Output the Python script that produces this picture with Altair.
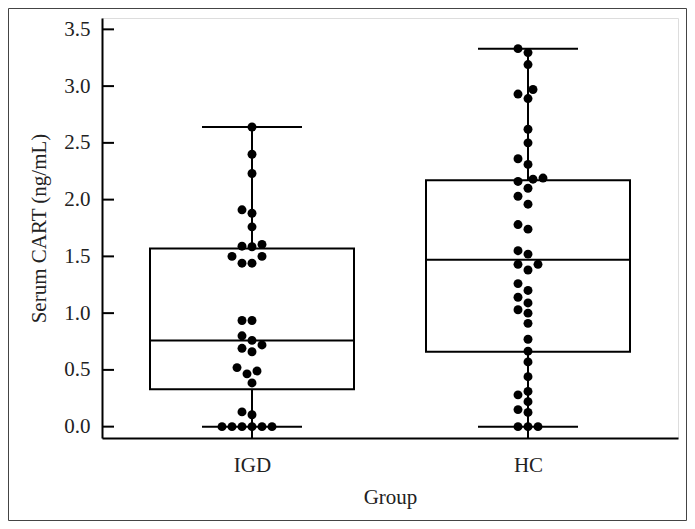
import altair as alt
import pandas as pd

# ---------------- data ----------------
groups = ["IGD", "HC"]

igd_values = [0, 0, 0, 0, 0, 0, 0.105, 0.13, 0.385, 0.465, 0.49, 0.52,
              0.66, 0.69, 0.72, 0.76, 0.80, 0.935, 0.935, 1.44, 1.44,
              1.50, 1.50, 1.585, 1.59, 1.605, 1.76, 1.88, 1.91, 2.23,
              2.40, 2.64]

hc_values = [0, 0, 0, 0.125, 0.15, 0.22, 0.28, 0.31, 0.44, 0.57, 0.665,
             0.77, 0.91, 1.00, 1.03, 1.09, 1.14, 1.20, 1.26, 1.38, 1.43,
             1.43, 1.52, 1.55, 1.74, 1.78, 1.96, 2.03, 2.10, 2.16, 2.18,
             2.19, 2.31, 2.36, 2.50, 2.62, 2.89, 2.93, 2.97, 3.19, 3.295,
             3.33]

box_q1 = [0.33, 0.66]
box_median = [0.76, 1.47]
box_q3 = [1.57, 2.17]
whisker_min = [0.0, 0.0]
whisker_max = [2.64, 3.33]

y_ticks = [0.0, 0.5, 1.0, 1.5, 2.0, 2.5, 3.0, 3.5]

# ---------------- layout / style ----------------
W, H = 576, 420
Y_DOMAIN = [-0.1, 3.6]
STEP_PX = 276.0                      # pixel distance between group centres
X_DOMAIN = [-150 / STEP_PX, 1 + 150 / STEP_PX]
PX_PER_Y = H / (Y_DOMAIN[1] - Y_DOMAIN[0])
BOX_HALF = 102 / STEP_PX
CAP_HALF = 50 / STEP_PX
DOT_D = 9.8
FONT = "Liberation Serif"
FS = 21


def swarm(values):
    """Simple deterministic beeswarm: pixel offsets in half-diameter steps."""
    placed = []
    offs = [0.0] * len(values)
    order = sorted(range(len(values)), key=lambda i: values[i])
    cands = [0]
    for k in range(1, 12):
        cands += [-5 * k, 5 * k]
    for i in order:
        y = values[i] * PX_PER_Y
        for c in cands:
            if all((c - px) ** 2 + (y - py) ** 2 >= DOT_D ** 2 for px, py in placed):
                offs[i] = c
                placed.append((c, y))
                break
    return offs


dot_rows = []
for gi, vals in enumerate([igd_values, hc_values]):
    for v, o in zip(vals, swarm(vals)):
        dot_rows.append({"group": groups[gi], "xpos": gi + o / STEP_PX, "value": v})
dots = pd.DataFrame(dot_rows)

box = pd.DataFrame({
    "group": groups,
    "gi": [0, 1],
    "left": [i - BOX_HALF for i in range(2)],
    "right": [i + BOX_HALF for i in range(2)],
    "cap_l": [i - CAP_HALF for i in range(2)],
    "cap_r": [i + CAP_HALF for i in range(2)],
    "q1": box_q1, "median": box_median, "q3": box_q3,
    "wmin": whisker_min, "wmax": whisker_max,
})

xscale = alt.Scale(domain=X_DOMAIN, nice=False, zero=False)
yscale = alt.Scale(domain=Y_DOMAIN, nice=False, zero=False)

x_axis = alt.Axis(values=[0, 1], labelExpr="datum.value == 0 ? 'IGD' : 'HC'",
                  title="Group", grid=False, ticks=False, domainColor="black",
                  domainWidth=2, labelFont=FONT, labelFontSize=FS, labelColor="#222",
                  labelPadding=16, titleFont=FONT, titleFontSize=FS,
                  titleFontWeight="normal", titleColor="#222", titlePadding=11)
y_axis = alt.Axis(values=y_ticks, format=".1f", title="Serum CART (ng/mL)",
                  grid=False, ticks=False, domainColor="black", domainWidth=2,
                  labelFont=FONT, labelFontSize=FS, labelColor="#222",
                  labelPadding=12, titleFont=FONT, titleFontSize=FS,
                  titleFontWeight="normal", titleColor="#222", titlePadding=14)

base_box = alt.Chart(box)

boxes = base_box.mark_rect(fill="white", stroke="black", strokeWidth=2).encode(
    x=alt.X("left:Q", scale=xscale, axis=x_axis),
    x2="right:Q",
    y=alt.Y("q1:Q", scale=yscale, axis=y_axis),
    y2="q3:Q",
)
medians = base_box.mark_rule(color="black", strokeWidth=2).encode(
    x="left:Q", x2="right:Q", y="median:Q")
upper = base_box.mark_rule(color="black", strokeWidth=2).encode(
    x="gi:Q", y="q3:Q", y2="wmax:Q")
lower = base_box.mark_rule(color="black", strokeWidth=2).encode(
    x="gi:Q", y="wmin:Q", y2="q1:Q")
cap_top = base_box.mark_rule(color="black", strokeWidth=2).encode(
    x="cap_l:Q", x2="cap_r:Q", y="wmax:Q")
cap_bot = base_box.mark_rule(color="black", strokeWidth=2).encode(
    x="cap_l:Q", x2="cap_r:Q", y="wmin:Q")

# inward axis ticks
ytick_df = pd.DataFrame({"v": y_ticks})
yticks = alt.Chart(ytick_df).mark_rule(color="black", strokeWidth=2).encode(
    x=alt.value(0), x2=alt.value(12), y="v:Q")
xtick_df = pd.DataFrame({"gi": [0, 1]})
xticks = alt.Chart(xtick_df).mark_rule(color="black", strokeWidth=2).encode(
    x="gi:Q", y=alt.value(H), y2=alt.value(H - 11))

points = alt.Chart(dots).mark_circle(size=80, color="black", opacity=1).encode(
    x="xpos:Q", y="value:Q")

# outer frame of the figure
frame = alt.Chart(pd.DataFrame({"a": [0]})).mark_rect(
    fill=None, stroke="#444", strokeWidth=1).encode(
    x=alt.value(-93.5), x2=alt.value(W + 8.5),
    y=alt.value(-9.5), y2=alt.value(H + 82.5))

chart = alt.layer(
    frame, boxes, medians, upper, lower, cap_top, cap_bot, yticks, xticks, points
).properties(
    width=W, height=H,
    autosize=alt.AutoSizeParams(type="none"),
    padding={"left": 94, "top": 10, "right": 9, "bottom": 83},
).configure_view(stroke=None).configure(background="white")

chart.save("out.html", embed_options={"renderer": "svg", "actions": False})
